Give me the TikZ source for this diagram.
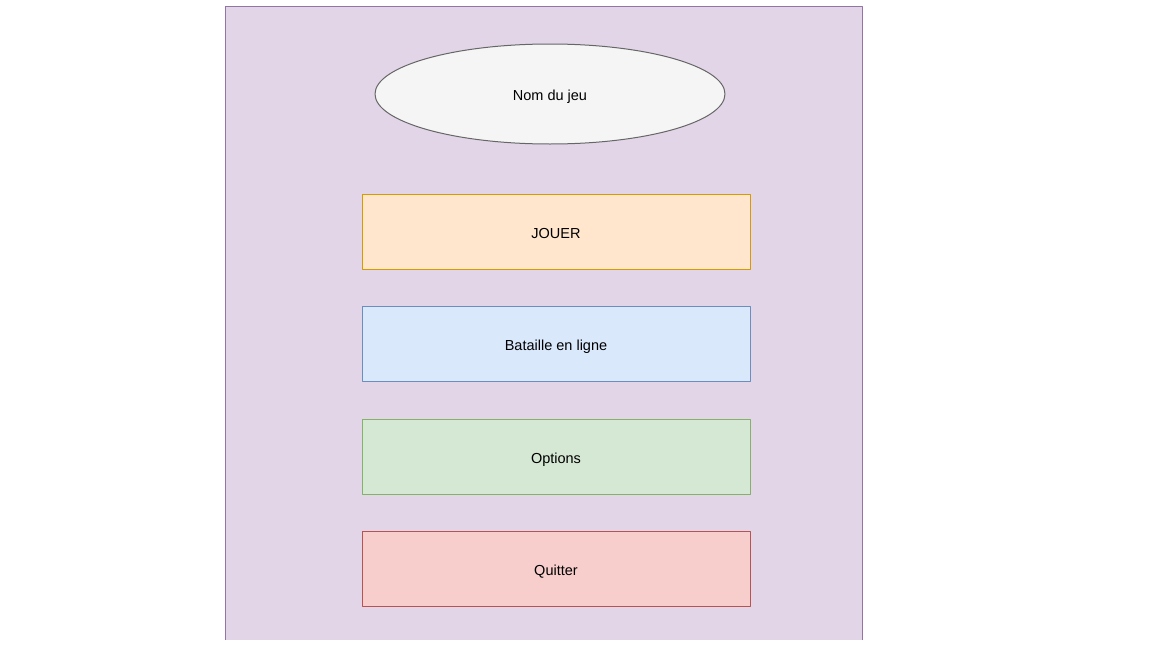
\documentclass[tikz,border=0pt]{standalone}
\usepackage{fontspec}
\setmainfont{Liberation Sans}
\usetikzlibrary{shapes.geometric}

\begin{document}
\begin{tikzpicture}[x=1pt, y=-1pt, line width=1.0pt, line join=round,
  menubtn/.style={draw, rectangle, minimum width=388pt, minimum height=75pt,
    inner sep=0pt, text height=13pt, text depth=0pt, font=\fontsize{14.5}{17}\selectfont},
  titlebox/.style={draw=titledraw, fill=titlefill, ellipse, minimum width=350pt,
    minimum height=100pt, inner sep=0pt, text height=13.5pt, text depth=0pt,
    font=\fontsize{14.5}{17}\selectfont}]

  %% ════ 颜色 ════
  \definecolor{framefill}{HTML}{E1D5E7}
  \definecolor{framedraw}{HTML}{9673A6}
  \definecolor{titlefill}{HTML}{F5F5F5}
  \definecolor{titledraw}{HTML}{666666}

  %% ════ 背景框 ════
  \fill[framefill] (225,6) rectangle (862,640);
  \draw[framedraw] (225,640) -- (225,6) -- (862,6) -- (862,640);

  %% ════ 标题 ════
  \node[titlebox] (titre) at (550,94) {Nom du jeu};

  %% ════ 菜单按钮 ════
  \node[menubtn, draw={rgb,255:red,215;green,155;blue,0}, fill={rgb,255:red,255;green,230;blue,204}] (jouer) at (556,231.5) {JOUER};
  \node[menubtn, draw={rgb,255:red,108;green,142;blue,191}, fill={rgb,255:red,218;green,232;blue,252}] (bataille) at (556,343.5) {Bataille en ligne};
  \node[menubtn, draw={rgb,255:red,130;green,179;blue,102}, fill={rgb,255:red,213;green,232;blue,212}] (options) at (556,456.5) {Options};
  \node[menubtn, draw={rgb,255:red,184;green,84;blue,80}, fill={rgb,255:red,248;green,206;blue,204}] (quitter) at (556,568.5) {Quitter};

  % 钉死画布
  \pgfresetboundingbox
  \path[use as bounding box] (0,0) rectangle (1152,648);
\end{tikzpicture}
\end{document}
